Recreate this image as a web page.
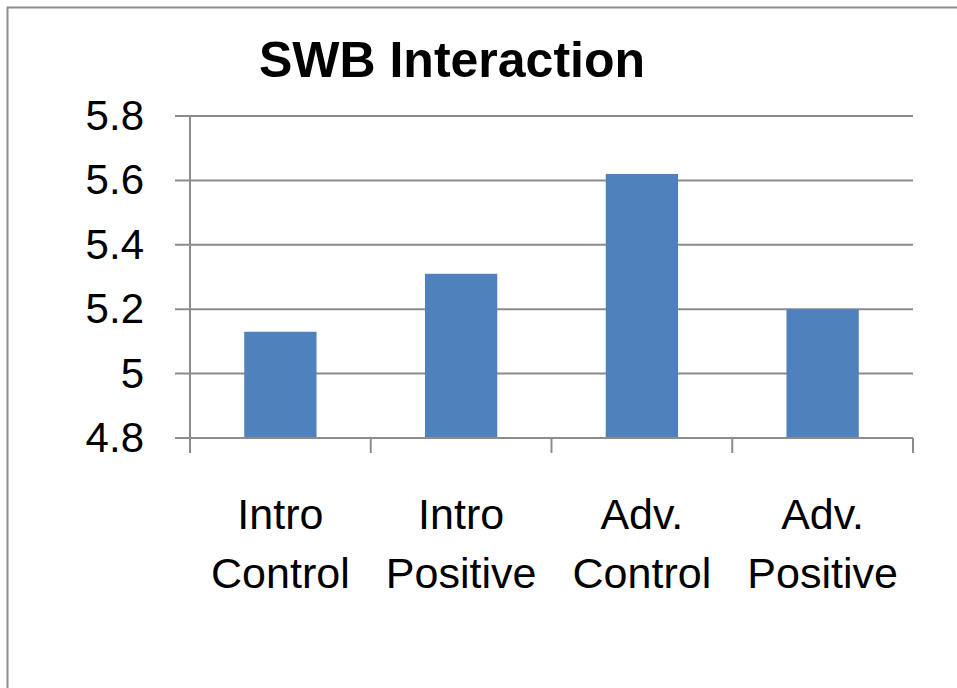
<!DOCTYPE html>
<html>
<head>
<meta charset="utf-8">
<script src="https://cdn.jsdelivr.net/npm/d3@7"></script>
<style>
  body { margin: 0; background: #fff; }
  svg { display: block; font-family: "Liberation Sans", Arial, sans-serif; }
</style>
</head>
<body>
<div id="chart"></div>
<script>
// Data
const categories = [["Intro", "Control"], ["Intro", "Positive"], ["Adv.", "Control"], ["Adv.", "Positive"]];
const values = [5.13, 5.31, 5.62, 5.2];
const yTicks = [4.8, 5, 5.2, 5.4, 5.6, 5.8];
const title = "SWB Interaction";

// Dimensions
const dimensions = {
  width: 957,
  height: 688,
  left: 190,
  right: 913,
  top: 116,
  bottom: 438,
};

const svg = d3
  .select("#chart")
  .append("svg")
  .attr("width", dimensions.width)
  .attr("height", dimensions.height);

// chart frame (cropped on right and bottom)
svg
  .append("path")
  .attr("d", `M7.5,${dimensions.height} V7.5 H${dimensions.width}`)
  .attr("fill", "none")
  .attr("stroke", "#8c8c8c")
  .attr("stroke-width", 2);

const xScale = d3
  .scaleBand()
  .domain(d3.range(categories.length))
  .range([dimensions.left, dimensions.right])
  .paddingInner(0.6)
  .paddingOuter(0.3);

const yScale = d3
  .scaleLinear()
  .domain([4.8, 5.8])
  .range([dimensions.bottom, dimensions.top]);

// Gridlines
svg
  .append("g")
  .selectAll("line")
  .data(yTicks)
  .join("line")
  .attr("x1", dimensions.left - 15)
  .attr("x2", dimensions.right)
  .attr("y1", (d) => yScale(d))
  .attr("y2", (d) => yScale(d))
  .attr("stroke", "#8c8c8c")
  .attr("stroke-width", 2);

// Y axis labels
svg
  .append("g")
  .selectAll("text")
  .data(yTicks)
  .join("text")
  .attr("x", 144)
  .attr("y", (d) => yScale(d) + 14)
  .attr("text-anchor", "end")
  .attr("font-size", 42)
  .attr("fill", "#000")
  .text((d) => d3.format("")(d));

// Bars
svg
  .append("g")
  .selectAll("rect")
  .data(values)
  .join("rect")
  .attr("x", (d, i) => xScale(i))
  .attr("width", xScale.bandwidth())
  .attr("y", (d) => yScale(d))
  .attr("height", (d) => yScale(4.8) - yScale(d))
  .attr("fill", "#4f81bd");

// Axes lines
const step = (dimensions.right - dimensions.left) / categories.length;
svg
  .append("line")
  .attr("x1", dimensions.left)
  .attr("x2", dimensions.left)
  .attr("y1", dimensions.top)
  .attr("y2", dimensions.bottom + 15)
  .attr("stroke", "#8c8c8c")
  .attr("stroke-width", 2);

svg
  .append("g")
  .selectAll("line")
  .data(d3.range(1, categories.length + 1))
  .join("line")
  .attr("x1", (d) => dimensions.left + d * step)
  .attr("x2", (d) => dimensions.left + d * step)
  .attr("y1", dimensions.bottom)
  .attr("y2", dimensions.bottom + 15)
  .attr("stroke", "#8c8c8c")
  .attr("stroke-width", 2);

svg
  .append("line")
  .attr("x1", dimensions.left)
  .attr("x2", dimensions.right)
  .attr("y1", dimensions.bottom)
  .attr("y2", dimensions.bottom)
  .attr("stroke", "#8c8c8c")
  .attr("stroke-width", 2);

// Category labels
const labels = svg
  .append("g")
  .selectAll("text")
  .data(categories)
  .join("text")
  .attr("text-anchor", "middle")
  .attr("font-size", 43)
  .attr("fill", "#000");

labels
  .selectAll("tspan")
  .data((d, i) => d.map((t) => ({ t, i })))
  .join("tspan")
  .attr("x", (d) => xScale(d.i) + xScale.bandwidth() / 2)
  .attr("y", (d, j) => 529 + j * 59)
  .text((d) => d.t);

// Title
svg
  .append("text")
  .attr("x", 452)
  .attr("y", 77)
  .attr("text-anchor", "middle")
  .attr("font-size", 50)
  .attr("font-weight", "bold")
  .attr("fill", "#000")
  .text(title);
</script>
</body>
</html>
